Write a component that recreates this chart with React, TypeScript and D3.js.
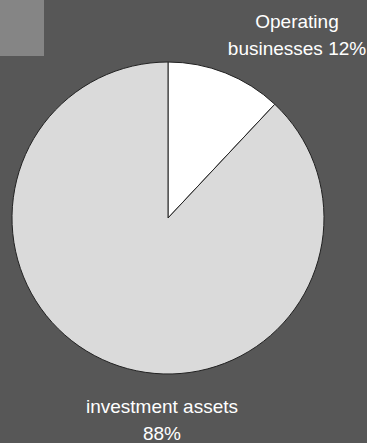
import React from "react";
import * as d3 from "d3";

const categories = ["Operating businesses", "Investment assets"];
const values = [12, 88];
const labelLines = [
  ["Operating", "businesses 12%"],
  ["investment assets", "88%"],
];

const W = 367;
const H = 443;

export default function App() {
  const cx = 168;
  const cy = 218;
  const r = 156;
  const pie = d3
    .pie<number>()
    .sort(null)
    .value((d) => d)
    .startAngle(0)
    .endAngle(2 * Math.PI);
  const arcs = pie(values);
  const arc = d3.arc<d3.PieArcDatum<number>>().innerRadius(0).outerRadius(r);
  const fills = ["#ffffff", "#dadada"];
  const labelPos = [
    { x: 297, y: 28 },
    { x: 162, y: 413 },
  ];
  return (
    <div style={{ position: "absolute", left: 0, top: 0 }}>
      <svg width={W} height={H} style={{ display: "block" }}>
        <rect x={0} y={0} width={W} height={H} fill="#575757" />
        <rect x={0} y={0} width={44} height={56} fill="#858585" />
        <g transform={`translate(${cx},${cy})`}>
          {arcs.map((a, i) => (
            <path
              key={categories[i]}
              d={arc(a) || ""}
              fill={fills[i]}
              stroke="#222"
              strokeWidth={1}
            />
          ))}
        </g>
        {labelLines.map((lines, i) => (
          <text
            key={i}
            x={labelPos[i].x}
            y={labelPos[i].y}
            textAnchor="middle"
            fontFamily="Liberation Sans, Arial, sans-serif"
            fontSize={19}
            fill="#ffffff"
          >
            {lines.map((l, j) => (
              <tspan key={j} x={labelPos[i].x} dy={j === 0 ? 0 : 27}>
                {l}
              </tspan>
            ))}
          </text>
        ))}
      </svg>
    </div>
  );
}
